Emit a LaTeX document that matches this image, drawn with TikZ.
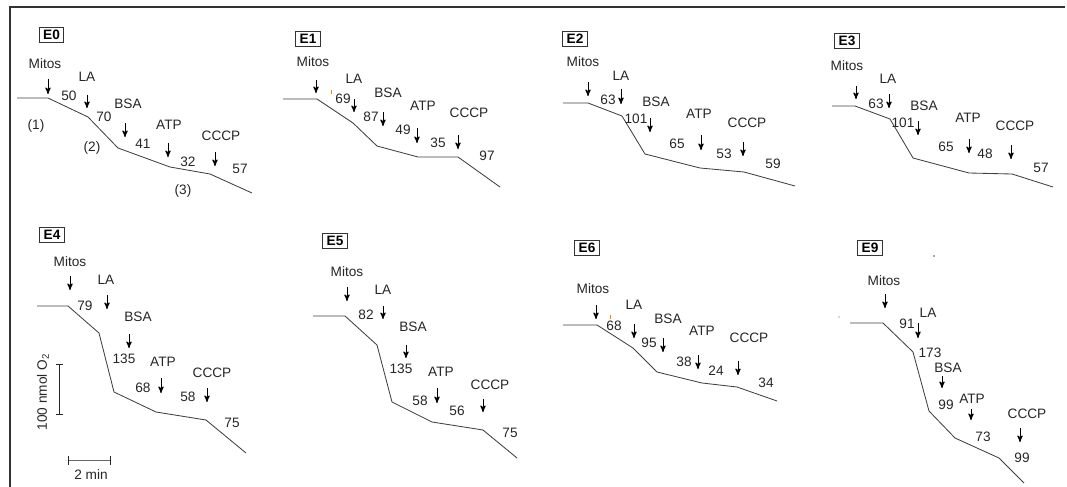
\documentclass[tikz,border=0pt]{standalone}
\usepackage{fontspec}
\setmainfont{Liberation Sans}
\usetikzlibrary{arrows}

\begin{document}
\begin{tikzpicture}[x=0.025cm,y=-0.025cm,>=stealth',
  lab/.style={font=\fontsize{9.7}{11}\selectfont,inner sep=0pt,text=black!85},
  tag/.style={draw=black!80,line width=0.7pt,font=\fontsize{9.7}{11}\selectfont\bfseries,inner xsep=2.8pt,inner ysep=1.8pt},
  trace/.style={draw=black!75,line width=0.6pt,line join=round},
  pin/.style={->,line width=0.7pt,black}]
  \useasboundingbox (0,0) rectangle (1067,487);
  \draw[black!80,line width=1pt] (1065,7) -- (10,7) -- (10,487);

  % E0
  \node[tag] (e0) at (51.5,35) {E0};
  \node[lab] (0mitos) at (45,64) {Mitos};
  \node[lab] (0la) at (87,77) {LA};
  \node[lab] (0bsa) at (128,104) {BSA};
  \node[lab] (0atp) at (169,125) {ATP};
  \node[lab] (0cccp) at (221,136) {CCCP};
  \node[lab] (0r1) at (69,96) {50};
  \node[lab] (0r2) at (104,117) {70};
  \node[lab] (0r3) at (143,144) {41};
  \node[lab] (0r4) at (188,162) {32};
  \node[lab] (0r5) at (240,169) {57};
  \node[lab] (0s1) at (36,126) {(1)};
  \node[lab] (0s2) at (92,148) {(2)};
  \node[lab] (0s3) at (183,191) {(3)};
  \coordinate (0a1) at (48,79);  \coordinate (0b1) at (48,94);
  \coordinate (0a2) at (87,95);  \coordinate (0b2) at (87,108);
  \coordinate (0a3) at (125,123); \coordinate (0b3) at (125,137);
  \coordinate (0a4) at (168,143); \coordinate (0b4) at (168,157);
  \coordinate (0a5) at (215,152); \coordinate (0b5) at (215,166);
  \path[pin] (0a1) edge (0b1) (0a2) edge (0b2) (0a3) edge (0b3)
    (0a4) edge (0b4) (0a5) edge (0b5);
  \draw[trace] (17,98) -- (48,98) -- (88,117) -- (118,148) -- (170,167) -- (210,174) -- (252,193);

  % E1
  \node[tag] (e1) at (308,39) {E1};
  \node[lab] (1mitos) at (313,62) {Mitos};
  \node[lab] (1la) at (354,79) {LA};
  \node[lab] (1bsa) at (388,93) {BSA};
  \node[lab] (1atp) at (423,106) {ATP};
  \node[lab] (1cccp) at (469,113) {CCCP};
  \node[lab] (1r1) at (343,99) {69};
  \node[lab] (1r2) at (371,117) {87};
  \node[lab] (1r3) at (403,130) {49};
  \node[lab] (1r4) at (438,143) {35};
  \node[lab] (1r5) at (487,156) {97};
  \coordinate (1a1) at (316,80);  \coordinate (1b1) at (316,93);
  \coordinate (1a2) at (354,99);  \coordinate (1b2) at (354,112);
  \coordinate (1a3) at (383,112); \coordinate (1b3) at (383,126);
  \coordinate (1a4) at (417,128); \coordinate (1b4) at (417,143);
  \coordinate (1a5) at (458,135); \coordinate (1b5) at (458,149);
  \path[pin] (1a1) edge (1b1) (1a2) edge (1b2) (1a3) edge (1b3)
    (1a4) edge (1b4) (1a5) edge (1b5);
  \draw[trace] (283,99) -- (317,99) -- (353,123) -- (377,146) -- (418,157) -- (458,157) -- (500,187);
  \draw[orange,line width=0.6pt] (331,90) -- (331,94);

  % E2
  \node[tag] (e2) at (575,39) {E2};
  \node[lab] (2mitos) at (583,62) {Mitos};
  \node[lab] (2la) at (621,76) {LA};
  \node[lab] (2bsa) at (656,102) {BSA};
  \node[lab] (2atp) at (699,114) {ATP};
  \node[lab] (2cccp) at (747,123) {CCCP};
  \node[lab] (2r1) at (608,100) {63};
  \node[lab] (2r2) at (636,119) {101};
  \node[lab] (2r3) at (677,144) {65};
  \node[lab] (2r4) at (724,154) {53};
  \node[lab] (2r5) at (773,164) {59};
  \coordinate (2a1) at (588,82);  \coordinate (2b1) at (588,96);
  \coordinate (2a2) at (621,89);  \coordinate (2b2) at (621,104);
  \coordinate (2a3) at (650,118); \coordinate (2b3) at (650,132);
  \coordinate (2a4) at (701,135); \coordinate (2b4) at (701,150);
  \coordinate (2a5) at (743,142); \coordinate (2b5) at (743,156);
  \path[pin] (2a1) edge (2b1) (2a2) edge (2b2) (2a3) edge (2b3)
    (2a4) edge (2b4) (2a5) edge (2b5);
  \draw[trace] (563,103) -- (588,103) -- (622,116) -- (645,154) -- (700,168) -- (744,172) -- (795,186);

  % E3
  \node[tag] (e3) at (847,41) {E3};
  \node[lab] (3mitos) at (847,66) {Mitos};
  \node[lab] (3la) at (888,79) {LA};
  \node[lab] (3bsa) at (924,106) {BSA};
  \node[lab] (3atp) at (968,118) {ATP};
  \node[lab] (3cccp) at (1015,126) {CCCP};
  \node[lab] (3r1) at (876,104) {63};
  \node[lab] (3r2) at (903,123) {101};
  \node[lab] (3r3) at (946,147) {65};
  \node[lab] (3r4) at (985,154) {48};
  \node[lab] (3r5) at (1041,168) {57};
  \coordinate (3a1) at (856,86);  \coordinate (3b1) at (856,99);
  \coordinate (3a2) at (889,94);  \coordinate (3b2) at (889,108);
  \coordinate (3a3) at (918,121); \coordinate (3b3) at (918,135);
  \coordinate (3a4) at (969,139); \coordinate (3b4) at (969,153);
  \coordinate (3a5) at (1011,145); \coordinate (3b5) at (1011,159);
  \path[pin] (3a1) edge (3b1) (3a2) edge (3b2) (3a3) edge (3b3)
    (3a4) edge (3b4) (3a5) edge (3b5);
  \draw[trace] (832,106) -- (855,106) -- (890,119) -- (913,158) -- (969,173) -- (1012,174) -- (1053,187);

  % E4
  \node[tag] (e4) at (52,235) {E4};
  \node[lab] (4mitos) at (70,262) {Mitos};
  \node[lab] (4la) at (106,280) {LA};
  \node[lab] (4bsa) at (138,317) {BSA};
  \node[lab] (4atp) at (163,362) {ATP};
  \node[lab] (4cccp) at (212,373) {CCCP};
  \node[lab] (4r1) at (85,306) {79};
  \node[lab] (4r2) at (124,359) {135};
  \node[lab] (4r3) at (143,388) {68};
  \node[lab] (4r4) at (188,397) {58};
  \node[lab] (4r5) at (232,423) {75};
  \coordinate (4a1) at (70,276);  \coordinate (4b1) at (70,290);
  \coordinate (4a2) at (107,295); \coordinate (4b2) at (107,309);
  \coordinate (4a3) at (129,334); \coordinate (4b3) at (129,348);
  \coordinate (4a4) at (161,378); \coordinate (4b4) at (161,393);
  \coordinate (4a5) at (207,388); \coordinate (4b5) at (207,402);
  \path[pin] (4a1) edge (4b1) (4a2) edge (4b2) (4a3) edge (4b3)
    (4a4) edge (4b4) (4a5) edge (4b5);
  \draw[trace] (37,306) -- (68,306) -- (99,333) -- (114,392) -- (156,412) -- (206,420) -- (246,453);
  \draw[black!85,line width=0.7pt] (56,364) -- (63,364) (59,364) -- (59,414) (56,414) -- (63,414);
  \node[lab,rotate=90] (o2) at (43,392) {100 nmol O\textsubscript{2}};
  \draw[black!60,line width=0.7pt] (68,460) -- (110,460);
  \draw[black!85,line width=0.7pt] (68,456) -- (68,465) (110,456) -- (110,465);
  \node[lab] (min) at (91,475) {2 min};

  % E5
  \node[tag] (e5) at (335,241) {E5};
  \node[lab] (5mitos) at (347,272) {Mitos};
  \node[lab] (5la) at (383,290) {LA};
  \node[lab] (5bsa) at (413,327) {BSA};
  \node[lab] (5atp) at (441,372) {ATP};
  \node[lab] (5cccp) at (490,385) {CCCP};
  \node[lab] (5r1) at (366,315) {82};
  \node[lab] (5r2) at (401,369) {135};
  \node[lab] (5r3) at (420,401) {58};
  \node[lab] (5r4) at (457,411) {56};
  \node[lab] (5r5) at (510,433) {75};
  \coordinate (5a1) at (347,287); \coordinate (5b1) at (347,301);
  \coordinate (5a2) at (383,306); \coordinate (5b2) at (383,319);
  \coordinate (5a3) at (406,345); \coordinate (5b3) at (406,358);
  \coordinate (5a4) at (437,388); \coordinate (5b4) at (437,403);
  \coordinate (5a5) at (483,399); \coordinate (5b5) at (483,412);
  \path[pin] (5a1) edge (5b1) (5a2) edge (5b2) (5a3) edge (5b3)
    (5a4) edge (5b4) (5a5) edge (5b5);
  \draw[trace] (313,316) -- (345,316) -- (377,345) -- (392,402) -- (432,422) -- (483,430) -- (517,458);

  % E6
  \node[tag] (e6) at (587,248) {E6};
  \node[lab] (6mitos) at (593,289) {Mitos};
  \node[lab] (6la) at (634,305) {LA};
  \node[lab] (6bsa) at (668,319) {BSA};
  \node[lab] (6atp) at (702,331) {ATP};
  \node[lab] (6cccp) at (749,338) {CCCP};
  \node[lab] (6r1) at (614,326) {68};
  \node[lab] (6r2) at (649,343) {95};
  \node[lab] (6r3) at (684,362) {38};
  \node[lab] (6r4) at (716,371) {24};
  \node[lab] (6r5) at (766,383) {34};
  \coordinate (6a1) at (596,305); \coordinate (6b1) at (596,319);
  \coordinate (6a2) at (634,324); \coordinate (6b2) at (634,338);
  \coordinate (6a3) at (663,338); \coordinate (6b3) at (663,352);
  \coordinate (6a4) at (698,355); \coordinate (6b4) at (698,369);
  \coordinate (6a5) at (738,361); \coordinate (6b5) at (738,375);
  \path[pin] (6a1) edge (6b1) (6a2) edge (6b2) (6a3) edge (6b3)
    (6a4) edge (6b4) (6a5) edge (6b5);
  \draw[trace] (563,325) -- (597,325) -- (633,348) -- (657,372) -- (702,383) -- (737,387) -- (777,401);
  \draw[orange,line width=0.6pt] (610,315) -- (610,319);

  % E9
  \node[tag] (e9) at (870,248) {E9};
  \node[lab] (9mitos) at (884,281) {Mitos};
  \node[lab] (9la) at (928,313) {LA};
  \node[lab] (9bsa) at (948,368) {BSA};
  \node[lab] (9atp) at (972,399) {ATP};
  \node[lab] (9cccp) at (1027,414) {CCCP};
  \node[lab] (9r1) at (907,324) {91};
  \node[lab] (9r2) at (930,353) {173};
  \node[lab] (9r3) at (946,405) {99};
  \node[lab] (9r4) at (983,437) {73};
  \node[lab] (9r5) at (1022,458) {99};
  \coordinate (9a1) at (885,294); \coordinate (9b1) at (885,308);
  \coordinate (9a2) at (918,323); \coordinate (9b2) at (918,338);
  \coordinate (9a3) at (942,376); \coordinate (9b3) at (942,388);
  \coordinate (9a4) at (971,409); \coordinate (9b4) at (971,420);
  \coordinate (9a5) at (1020,428); \coordinate (9b5) at (1020,442);
  \path[pin] (9a1) edge (9b1) (9a2) edge (9b2) (9a3) edge (9b3)
    (9a4) edge (9b4) (9a5) edge (9b5);
  \draw[trace] (850,323) -- (883,323) -- (913,352) -- (929,411) -- (955,438) -- (999,458) -- (1024,483);
  \fill[black!70] (934,256) circle (0.6pt) (839,317) circle (0.4pt);
\end{tikzpicture}
\end{document}
